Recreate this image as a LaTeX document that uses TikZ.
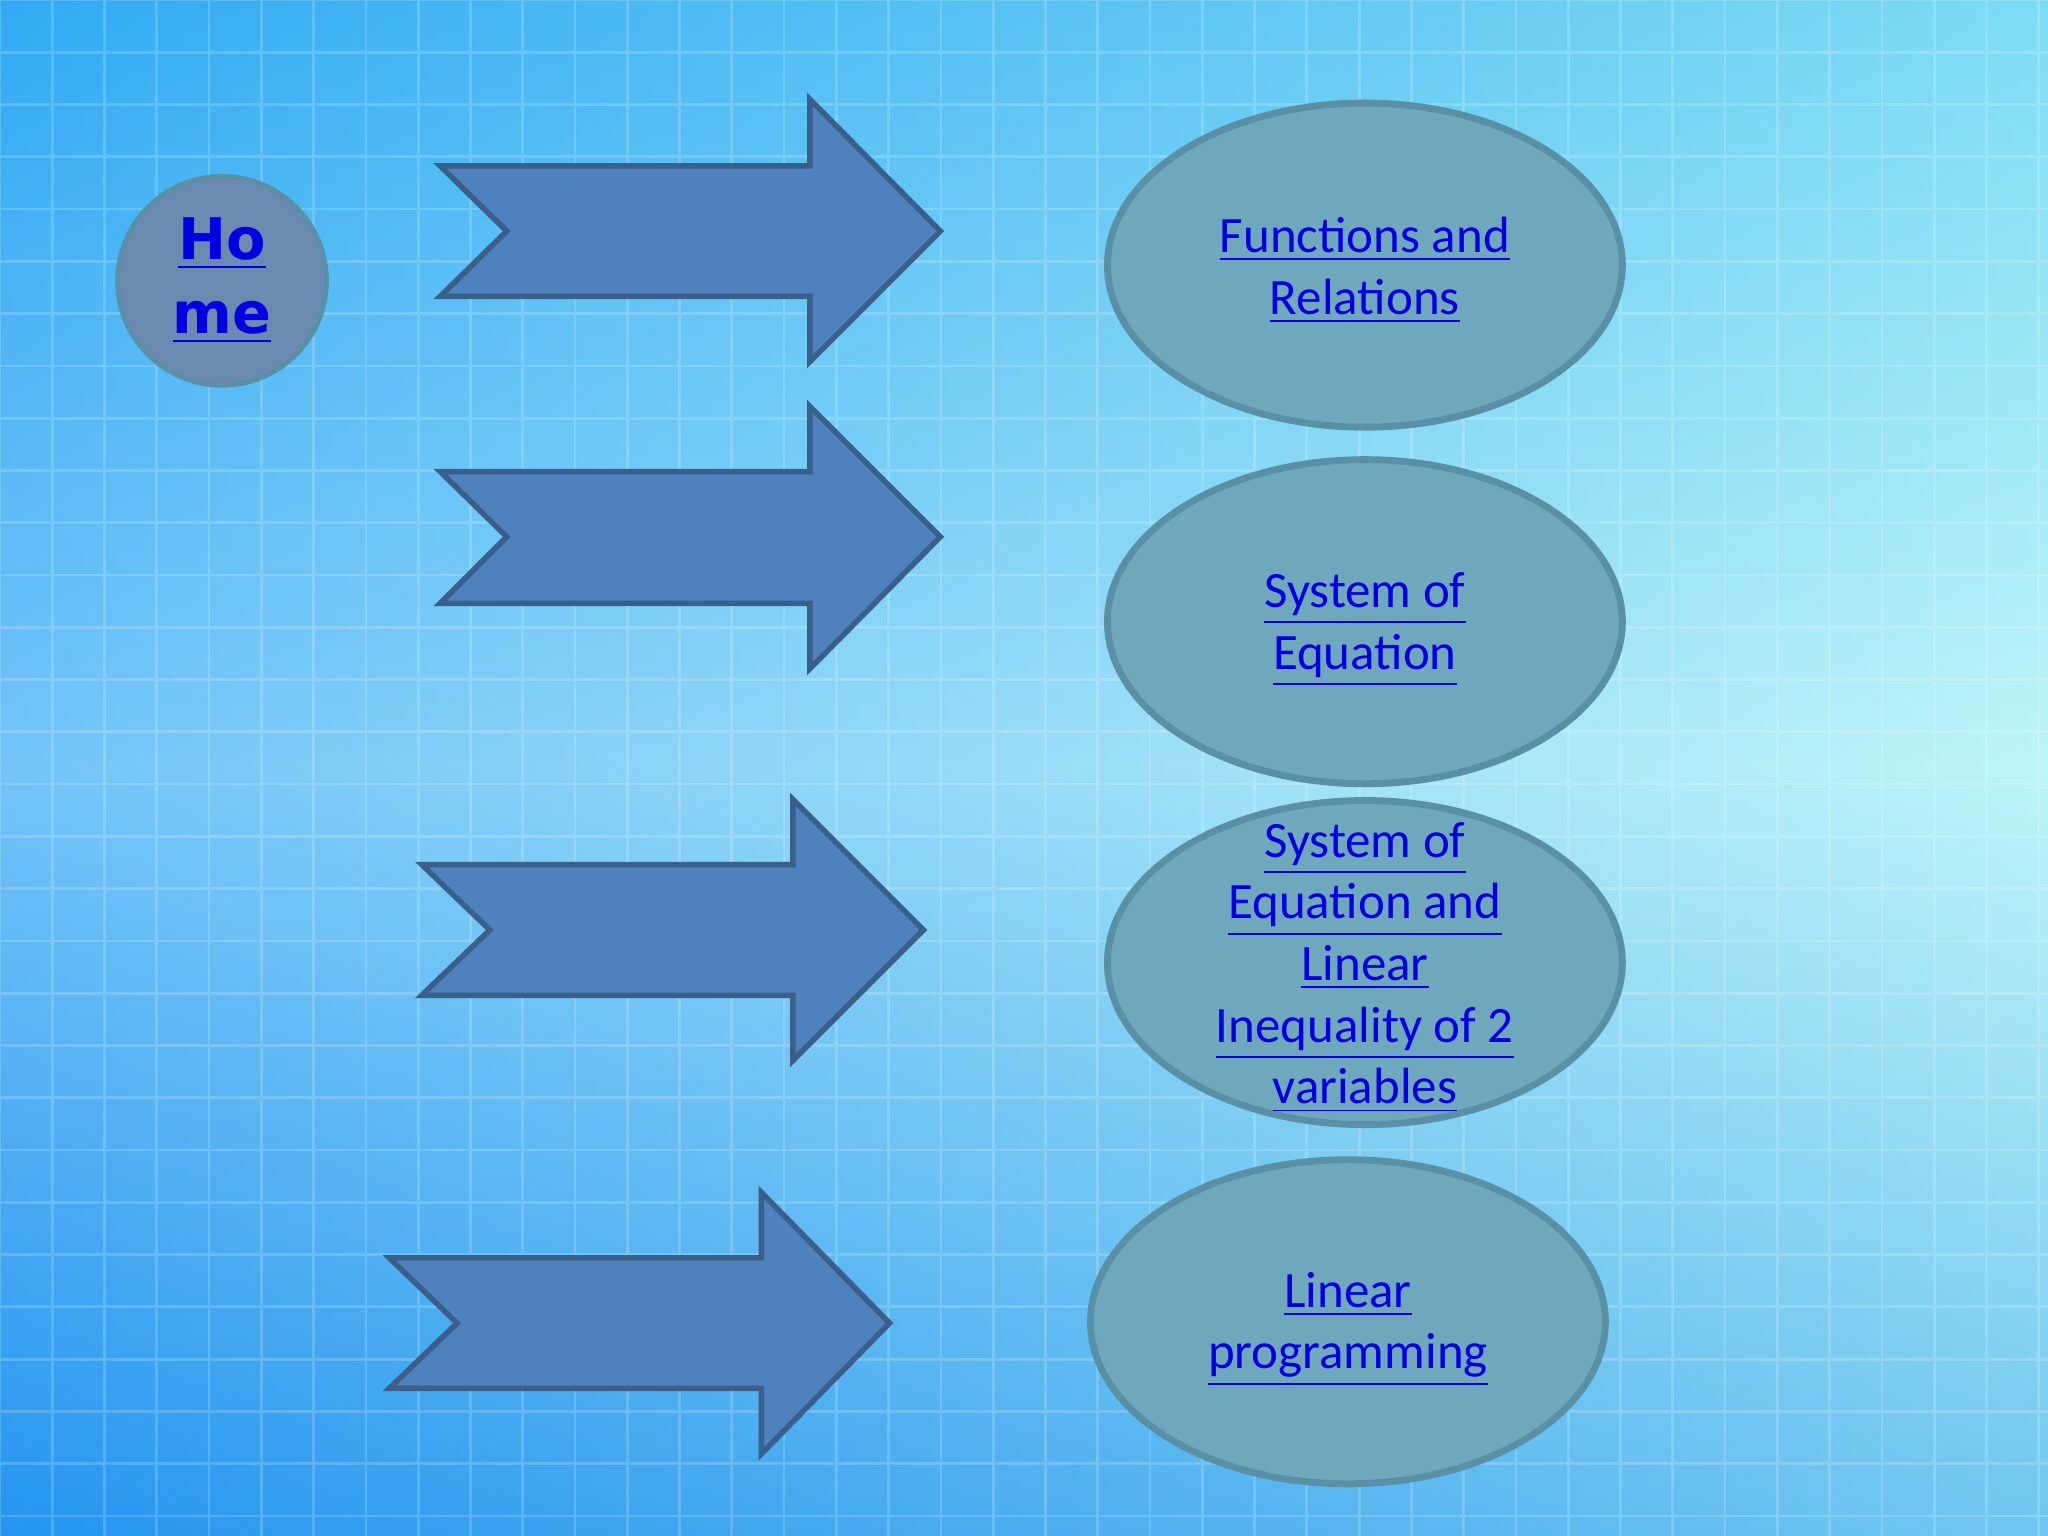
\documentclass[tikz,border=0pt]{standalone}
\usepackage{fontspec}
\setmainfont{Carlito}
\newfontfamily\homefont{DejaVu Sans}
\usetikzlibrary{shapes.geometric}
\definecolor{arrowfill}{HTML}{4F81BD}
\definecolor{arrowline}{HTML}{3A5F8A}
\definecolor{ellfill}{HTML}{6FA8BC}
\definecolor{ellline}{HTML}{5A90A6}
\definecolor{homefill}{HTML}{6A8AB0}
\definecolor{linkblue}{HTML}{0000E0}
\definecolor{bgtop}{HTML}{4CC8EE}
\definecolor{bgmid}{HTML}{B0F0F4}
\definecolor{bgbot}{HTML}{38A8E8}
\newcommand{\lnk}[1]{\underline{#1}}
\tikzset{
  bigarrow/.style={fill=arrowfill, draw=arrowline, line width=1.2pt},
  topic/.style={ellipse, minimum width=3.94cm, minimum height=2.48cm, inner sep=0pt,
    fill=ellfill, draw=ellline, line width=1.5pt},
  topictext/.style={text=linkblue, align=center, inner sep=0pt,
    font=\fontsize{11.1}{13.4}\selectfont},
  homebtn/.style={circle, minimum size=1.6cm, fill=homefill, draw=ellline, line width=1pt,
    text=linkblue, align=center, font=\homefont\bfseries\fontsize{12.5}{15}\selectfont, inner sep=0pt}
}
\begin{document}
\begin{tikzpicture}[x=0.01cm,y=-0.01cm]
\useasboundingbox (0,0) rectangle (1568,1176);
\shade[top color=bgtop, bottom color=bgbot, middle color=bgmid] (0,0) rectangle (1568,1176);
\shade[left color=blue!55!cyan, right color=cyan!15!white, opacity=0.35] (0,0) rectangle (1568,1176);
\draw[white, opacity=0.18, line width=0.6pt, step=0.4cm] (0,0) grid (1568,1176);
% arrows
\draw[bigarrow] (337,127) -- (620,127) -- (620,76) -- (720,177) -- (620,277) -- (620,227) -- (337,227) -- (388,177) -- cycle;
\draw[bigarrow] (337,361) -- (620,361) -- (620,311) -- (720,411) -- (620,512) -- (620,462) -- (337,462) -- (388,411) -- cycle;
\draw[bigarrow] (323,662) -- (607,662) -- (607,612) -- (707,712) -- (607,812) -- (607,762) -- (323,762) -- (375,712) -- cycle;
\draw[bigarrow] (298,963) -- (583,963) -- (583,913) -- (681,1013) -- (583,1113) -- (583,1063) -- (298,1063) -- (350,1013) -- cycle;
% home
\node[homebtn] (home) at (170,215) {\lnk{Ho}\\[1pt]\lnk{me}};
% topics
\node[topic] (t1) at (1045,203) {};
\node[topic] (t2) at (1045,476) {};
\node[topic] (t3) at (1045,737) {};
\node[topic] (t4) at (1032,1012) {};
\node[topictext] (l1) at ([yshift=-0.04cm]t1) {\lnk{Functions and}\\\lnk{Relations}};
\node[topictext] (l2) at ([yshift=-0.06cm]t2) {\lnk{System of}\\\lnk{Equation}};
\node[topictext] (l3) at ([yshift=-0.04cm]t3) {\lnk{System of}\\\lnk{Equation and}\\\lnk{Linear}\\\lnk{Inequality of 2}\\\lnk{variables}};
\node[topictext] (l4) at ([yshift=-0.06cm]t4) {\lnk{Linear}\\\lnk{programming}};
\end{tikzpicture}
\end{document}
